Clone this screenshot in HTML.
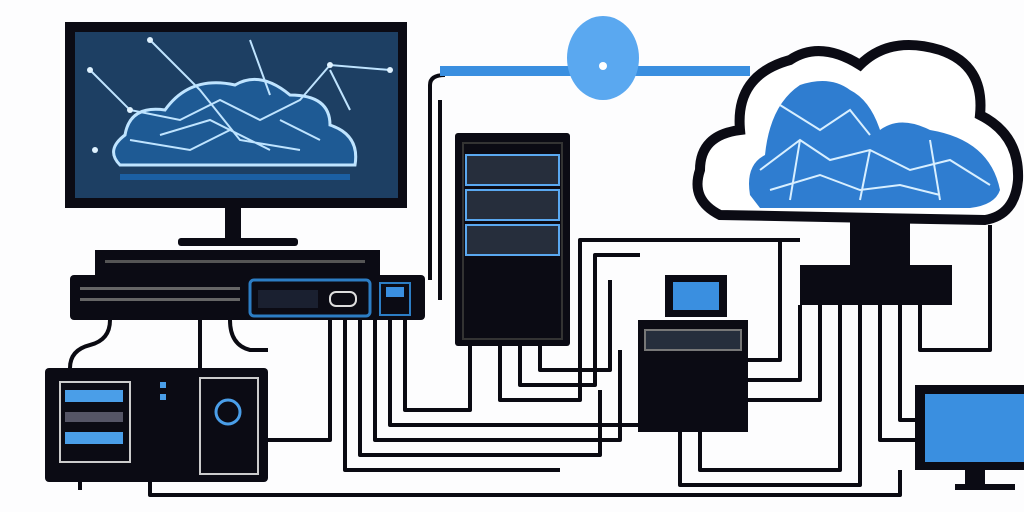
<!DOCTYPE html>
<html><head><meta charset="utf-8"><style>
html,body{margin:0;padding:0;background:#fff;width:1024px;height:512px;overflow:hidden}
</style></head><body>
<svg width="1024" height="512" viewBox="0 0 1024 512" xmlns="http://www.w3.org/2000/svg">
<rect width="1024" height="512" fill="#fdfdfe"/>
<!-- cables -->
<g fill="none" stroke="#0a0a12" stroke-width="4" stroke-linejoin="round">
<path d="M430 280 V85 Q430 75 445 75"/>
<path d="M440 300 V100"/>
<path d="M345 320 V470 H560"/>
<path d="M360 320 V455 H600 V390"/>
<path d="M375 320 V440 H620 V350"/>
<path d="M390 320 V425 H640"/>
<path d="M405 320 V410 H470 V345"/>
<path d="M500 345 V400 H580 V240 H800"/>
<path d="M520 345 V385 H595 V255 H640"/>
<path d="M540 345 V370 H610 V280"/>
<path d="M748 360 H780 V240"/>
<path d="M748 380 H800 V305"/>
<path d="M748 400 H820 V305"/>
<path d="M700 430 V470 H840 V305"/>
<path d="M680 430 V485 H860 V305"/>
<path d="M880 305 V440 H915"/>
<path d="M900 305 V420 H915"/>
<path d="M920 305 V350 H990 V225"/>
<path d="M110 320 Q110 340 90 345 Q70 350 70 368"/>
<path d="M200 320 V368"/>
<path d="M230 320 Q230 345 250 350 H268"/>
<path d="M268 440 H330 V320"/>
<path d="M150 482 V495 H900 V470"/>
<path d="M80 482 V490"/>
</g>
<!-- top blue bar -->
<rect x="440" y="66" width="310" height="10" fill="#3a8fe0"/>
<ellipse cx="603" cy="58" rx="36" ry="42" fill="#5aa8f0"/>
<circle cx="603" cy="66" r="4" fill="#fff"/>
<!-- monitor -->
<rect x="65" y="22" width="342" height="186" fill="#0b0b14"/>
<rect x="75" y="32" width="323" height="166" fill="#1d3f63"/>
<path d="M120 165 Q105 150 125 135 Q130 105 165 110 Q190 75 235 85 Q260 70 290 95 Q330 95 330 125 Q360 135 355 165 Z" fill="#1e5a94" stroke="#bfe4ff" stroke-width="3"/>
<g stroke="#bfe4ff" stroke-width="2" fill="none">
<path d="M90 70 L130 110 L180 120 L220 100 L260 120 L300 100 L330 65 L390 70"/>
<path d="M150 40 L200 90 L240 140 L300 150 M160 135 L210 120 L270 150 M130 140 L190 150 L230 130 M280 120 L320 140"/>
<path d="M250 40 L270 95 M330 70 L350 110"/>
</g>
<g fill="#dff2ff"><circle cx="90" cy="70" r="3"/><circle cx="130" cy="110" r="3"/><circle cx="330" cy="65" r="3"/><circle cx="390" cy="70" r="3"/><circle cx="95" cy="150" r="3"/><circle cx="150" cy="40" r="3"/></g>
<rect x="120" y="174" width="230" height="6" fill="#1b5fa3"/>
<rect x="225" y="208" width="16" height="32" fill="#0b0b14"/>
<rect x="178" y="238" width="120" height="8" rx="3" fill="#0b0b14"/>
<!-- horizontal devices -->
<rect x="95" y="250" width="285" height="26" fill="#0b0b14"/>
<rect x="105" y="260" width="260" height="3" fill="#555"/>
<rect x="70" y="275" width="355" height="45" rx="4" fill="#0b0b14"/>
<rect x="80" y="287" width="160" height="3" fill="#666"/><rect x="80" y="298" width="160" height="3" fill="#666"/>
<rect x="250" y="280" width="120" height="36" rx="4" fill="none" stroke="#2c7dc4" stroke-width="3"/>
<rect x="258" y="290" width="60" height="18" fill="#1a2030"/>
<rect x="330" y="292" width="26" height="14" rx="6" fill="none" stroke="#ddd" stroke-width="2"/>
<rect x="380" y="283" width="30" height="32" fill="#0b0b14" stroke="#2c7dc4" stroke-width="2"/>
<rect x="386" y="287" width="18" height="10" fill="#3a8fe0"/>
<!-- tower server -->
<rect x="455" y="133" width="115" height="213" rx="3" fill="#0b0b14"/>
<rect x="463" y="143" width="99" height="196" fill="none" stroke="#333" stroke-width="2"/>
<g fill="#262e3c" stroke="#5aa8f0" stroke-width="2">
<rect x="466" y="155" width="93" height="30"/><rect x="466" y="190" width="93" height="30"/><rect x="466" y="225" width="93" height="30"/>
</g>
<!-- small center monitor -->
<rect x="665" y="275" width="62" height="42" fill="#0b0b14"/>
<rect x="673" y="282" width="46" height="28" fill="#3a8fe0"/>
<rect x="638" y="320" width="110" height="112" fill="#0b0b14"/>
<rect x="645" y="330" width="96" height="20" fill="#262e3c" stroke="#777" stroke-width="2"/>
<!-- cloud right -->
<path d="M720 215 Q690 200 700 170 Q700 135 740 130 Q735 75 790 60 Q820 40 860 65 Q890 35 940 50 Q985 65 980 115 Q1020 135 1018 180 Q1015 215 985 220 Z" fill="#fff" stroke="#0b0b14" stroke-width="10"/>
<path d="M750 195 Q745 165 765 155 Q770 105 800 85 Q830 75 850 90 Q870 100 880 130 Q900 115 930 130 Q990 140 1000 190 Q995 205 970 208 L760 208 Z" fill="#2f7dd0"/>
<g stroke="#d8efff" stroke-width="2" fill="none">
<path d="M760 170 L800 140 L830 160 L870 150 L910 170 L950 160 L990 185 M780 105 L820 130 L850 110 L870 135 M770 190 L820 175 L860 190 L900 185 L940 195 M800 140 L790 200 M870 150 L860 200 M930 140 L940 200"/>
</g>
<rect x="850" y="222" width="60" height="45" fill="#0b0b14"/>
<rect x="800" y="265" width="152" height="40" fill="#0b0b14"/>
<!-- bottom left box -->
<rect x="45" y="368" width="223" height="114" rx="4" fill="#0b0b14"/>
<rect x="60" y="382" width="70" height="80" fill="none" stroke="#ccc" stroke-width="2"/>
<rect x="65" y="390" width="58" height="12" fill="#4a9ee8"/><rect x="65" y="412" width="58" height="10" fill="#556"/>
<rect x="65" y="432" width="58" height="12" fill="#4a9ee8"/>
<rect x="160" y="382" width="6" height="6" fill="#4a9ee8"/><rect x="160" y="394" width="6" height="6" fill="#4a9ee8"/>
<rect x="200" y="378" width="58" height="96" fill="none" stroke="#ccc" stroke-width="2"/>
<circle cx="228" cy="412" r="12" fill="none" stroke="#4a9ee8" stroke-width="3"/>
<!-- right monitor -->
<rect x="915" y="385" width="109" height="85" fill="#0b0b14"/>
<rect x="925" y="394" width="99" height="68" fill="#3a8fe0"/>
<rect x="965" y="470" width="20" height="14" fill="#0b0b14"/>
<rect x="955" y="484" width="60" height="6" fill="#0b0b14"/>
</svg>
</body></html>
